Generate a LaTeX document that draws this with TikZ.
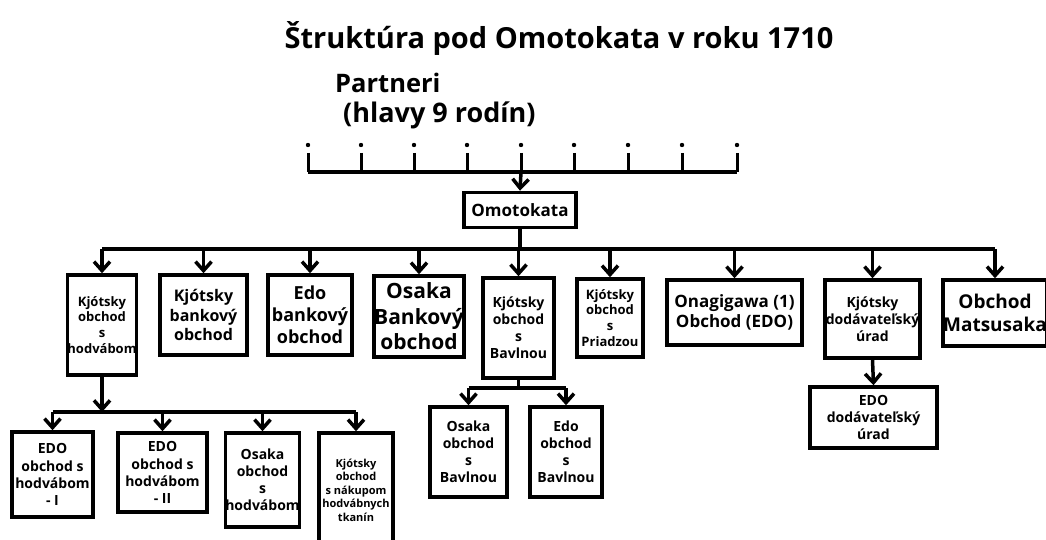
\documentclass[tikz,border=0pt]{standalone}
\usepackage{fontspec}
\setmainfont{Open Sans}
\usetikzlibrary{arrows.meta}

\begin{document}
\begin{tikzpicture}[x=1pt, y=-1pt,
    unit/.style={draw, line width=3.5pt, align=center, inner sep=0pt,
        font=\bfseries\fontsize{#1pt}{1.22\dimexpr#1pt\relax}\selectfont},
    unit/.default=16,
    link/.style={line width=3.5pt},
    feed/.style={line width=3.5pt, -{Straight Barb[length=9pt, width=16pt, line width=3.5pt]}}]
    \useasboundingbox (0,0) rectangle (1046,540);

    % title and partners
    \node (title) at (559,38) {\bfseries\fontsize{29}{35}\selectfont Štruktúra pod Omotokata v roku 1710};
    \node[anchor=base west, inner sep=0pt, font=\bfseries\fontsize{25.5}{30}\selectfont]
        (partners) at (335,93) {Partneri};
    \node[anchor=base west, inner sep=0pt, font=\bfseries\fontsize{27}{32}\selectfont]
        (families) at (343,123) {(hlavy 9 rodín)};
    \foreach \px [count=\i] in {308,361,414,467,521,574,628,682,737} {
        \coordinate (p\i) at (\px,172);
        \fill (\px,145) circle (2.2pt);
        \draw[line width=3pt] (\px,153) -- (p\i);
    }
    \draw[link] (p1) -- (p9);

    % main house
    \node[unit=17, minimum width=112pt, minimum height=35pt] (omo) at (520,210) {Omotokata};
    \draw[feed] (p5) -- (omo.north);

    % first row
    \node[unit=13, minimum width=68pt, minimum height=100pt] (b1) at (102,325) {Kjótsky\\obchod\\s\\hodvábom};
    \node[unit=16, minimum width=87pt, minimum height=80pt] (b2) at (203.5,315) {Kjótsky\\bankový\\obchod};
    \node[unit=18, minimum width=84pt, minimum height=80pt] (b3) at (310,315) {Edo\\bankový\\obchod};
    \node[unit=21, minimum width=82pt, minimum height=81pt] (b4) at (419,316.5) {Osaka\\Bankový\\obchod};
    \node[unit=14, minimum width=71pt, minimum height=100pt] (b5) at (518.5,328) {Kjótsky\\obchod\\s\\Bavlnou};
    \node[unit=13, minimum width=66pt, minimum height=78pt] (b6) at (610,318) {Kjótsky\\obchod\\s\\Priadzou};
    \node[unit=17, minimum width=135pt, minimum height=65pt] (b7) at (734.5,312.5) {Onagigawa (1)\\Obchod (EDO)};
    \node[unit=14, minimum width=95pt, minimum height=78pt] (b8) at (872.5,319) {Kjótsky\\dodávateľský\\úrad};
    \node[unit=19, minimum width=103pt, minimum height=66pt] (b9) at (995,313) {Obchod\\Matsusaka};

    \coordinate (bus) at (520,249);
    \draw[link] (omo.south) -- (bus);
    \draw[link] (b1 |- bus) -- (b9 |- bus);
    \foreach \n in {b1,b2,b3,b4,b5,b6,b7,b8,b9}
        \draw[feed] (\n |- bus) -- (\n.north);

    % silk branch
    \node[unit=14, minimum width=81pt, minimum height=85pt] (c1) at (52.5,474.5) {EDO\\obchod s\\hodvábom\\- I};
    \node[unit=14, minimum width=89pt, minimum height=79pt] (c2) at (162.5,472.5) {EDO\\obchod s\\hodvábom\\- II};
    \node[unit=14, minimum width=71pt, minimum height=94pt] (c3) at (262.5,480) {Osaka\\obchod\\s\\hodvábom};
    \node[unit=11, minimum width=74pt, minimum height=114pt] (c4) at (356,490) {Kjótsky\\obchod\\s nákupom\\hodvábnych\\tkanín};
    \coordinate (silk) at (b1 |- 0,412);
    \draw[feed] (b1.south) -- (silk);
    \draw[link] (c1 |- silk) -- (c4 |- silk);
    \foreach \n in {c1,c2,c3,c4}
        \draw[feed] (\n |- silk) -- (\n.north);

    % cotton branch
    \node[unit=14, minimum width=77pt, minimum height=90pt] (d1) at (468.5,452) {Osaka\\obchod\\s\\Bavlnou};
    \node[unit=14, minimum width=72pt, minimum height=90pt] (d2) at (566,452) {Edo\\obchod\\s\\Bavlnou};
    \coordinate (cotton) at (b5 |- 0,388);
    \draw[link] (b5.south) -- (cotton);
    \draw[link] (d1 |- cotton) -- (d2 |- cotton);
    \foreach \n in {d1,d2}
        \draw[feed] (\n |- cotton) -- (\n.north);

    % supply office
    \node[unit=14, minimum width=127pt, minimum height=61pt] (e1) at (873.5,417.5) {EDO\\dodávateľský\\úrad};
    \draw[feed] (b8.south) -- (e1.north);
\end{tikzpicture}
\end{document}
